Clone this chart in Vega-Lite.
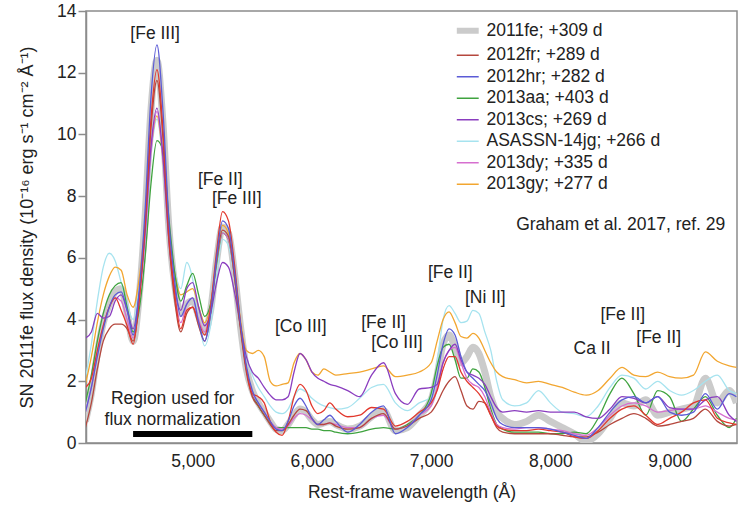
{
  "$schema": "https://vega.github.io/schema/vega-lite/v6.json",
  "description": "Nebular-phase spectra of nine Type Ia supernovae, flux density against rest-frame wavelength.",
  "width": 651,
  "height": 432,
  "autosize": {"type": "none"},
  "padding": {"left": 86, "top": 11, "right": 11, "bottom": 72},
  "datasets": {
    "fe": [
      {"w":4100,"f":0.7},{"w":4150,"f":1.6},{"w":4200,"f":2.9},{"w":4250,"f":3.9},{"w":4300,"f":4.5},{"w":4350,"f":4.9},{"w":4400,"f":5.0},{"w":4450,"f":4.2},{"w":4500,"f":3.3},{"w":4550,"f":4.7},
      {"w":4600,"f":7.3},{"w":4650,"f":10.8},{"w":4700,"f":12.4},{"w":4750,"f":10.4},{"w":4800,"f":7.0},{"w":4850,"f":5.1},{"w":4900,"f":4.2},{"w":4950,"f":4.5},{"w":5000,"f":4.6},{"w":5050,"f":4.1},
      {"w":5100,"f":3.6},{"w":5150,"f":4.3},{"w":5200,"f":5.9},{"w":5250,"f":7.0},{"w":5300,"f":6.8},{"w":5350,"f":5.5},{"w":5400,"f":3.8},{"w":5450,"f":2.4},{"w":5500,"f":1.7},{"w":5550,"f":1.3},
      {"w":5600,"f":1.0},{"w":5650,"f":0.7},{"w":5700,"f":0.45},{"w":5750,"f":0.4},{"w":5800,"f":0.6},{"w":5850,"f":0.9},{"w":5900,"f":1.1},{"w":5950,"f":1.0},{"w":6000,"f":0.75},{"w":6050,"f":0.6},
      {"w":6100,"f":0.65},{"w":6150,"f":0.7},{"w":6200,"f":0.6},{"w":6300,"f":0.45},{"w":6400,"f":0.55},{"w":6500,"f":0.85},{"w":6600,"f":1.05},{"w":6700,"f":0.4},{"w":6800,"f":0.5},{"w":6900,"f":0.9},
      {"w":7000,"f":1.4},{"w":7050,"f":2.2},{"w":7100,"f":3.2},{"w":7150,"f":3.5},{"w":7200,"f":3.1},{"w":7250,"f":2.6},{"w":7300,"f":2.8},{"w":7350,"f":3.1},{"w":7400,"f":2.9},{"w":7450,"f":2.3},
      {"w":7500,"f":1.5},{"w":7550,"f":1.0},{"w":7600,"f":0.8},{"w":7700,"f":0.6},{"w":7800,"f":0.7},{"w":7900,"f":0.9},{"w":8000,"f":0.7},{"w":8100,"f":0.5},{"w":8200,"f":0.3},{"w":8300,"f":0.05},
      {"w":8400,"f":0.3},{"w":8500,"f":0.8},{"w":8600,"f":1.3},{"w":8700,"f":1.2},{"w":8800,"f":1.4},{"w":8900,"f":0.9},{"w":9000,"f":1.0},{"w":9100,"f":1.1},{"w":9200,"f":1.2},{"w":9300,"f":2.1},
      {"w":9400,"f":1.3},{"w":9500,"f":1.7},{"w":9560,"f":1.3}
    ],
    "fr": [
      {"w":4100,"f":0.5},{"w":4150,"f":1.3},{"w":4200,"f":2.4},{"w":4250,"f":3.3},{"w":4300,"f":3.7},{"w":4350,"f":3.85},{"w":4400,"f":3.85},{"w":4450,"f":3.7},{"w":4500,"f":3.3},{"w":4550,"f":4.6},
      {"w":4600,"f":7.0},{"w":4650,"f":10.2},{"w":4700,"f":11.75},{"w":4750,"f":9.9},{"w":4800,"f":6.6},{"w":4850,"f":4.6},{"w":4900,"f":3.6},{"w":4950,"f":4.2},{"w":5000,"f":4.4},{"w":5050,"f":3.8},
      {"w":5100,"f":3.3},{"w":5150,"f":4.2},{"w":5200,"f":5.9},{"w":5250,"f":6.9},{"w":5300,"f":6.7},{"w":5350,"f":5.4},{"w":5400,"f":3.7},{"w":5450,"f":2.3},{"w":5500,"f":1.5},{"w":5550,"f":1.2},
      {"w":5600,"f":0.9},{"w":5650,"f":0.6},{"w":5700,"f":0.4},{"w":5750,"f":0.4},{"w":5800,"f":0.6},{"w":5850,"f":0.9},{"w":5900,"f":1.1},{"w":5950,"f":1.05},{"w":6000,"f":0.8},{"w":6050,"f":0.6},
      {"w":6100,"f":0.6},{"w":6150,"f":0.65},{"w":6200,"f":0.55},{"w":6300,"f":0.45},{"w":6400,"f":0.5},{"w":6500,"f":0.8},{"w":6600,"f":0.95},{"w":6700,"f":0.45},{"w":6800,"f":0.55},{"w":6900,"f":0.8},
      {"w":7000,"f":1.0},{"w":7050,"f":1.3},{"w":7100,"f":1.7},{"w":7150,"f":2.0},{"w":7200,"f":2.15},{"w":7250,"f":1.7},{"w":7300,"f":1.2},{"w":7350,"f":1.1},{"w":7400,"f":1.35},{"w":7450,"f":1.3},
      {"w":7500,"f":0.9},{"w":7550,"f":0.5},{"w":7600,"f":0.35},{"w":7700,"f":0.3},{"w":7800,"f":0.3},{"w":7900,"f":0.3},{"w":8000,"f":0.3},{"w":8100,"f":0.25},{"w":8200,"f":0.2},{"w":8300,"f":0.2},
      {"w":8400,"f":0.35},{"w":8500,"f":0.6},{"w":8600,"f":0.8},{"w":8700,"f":0.95},{"w":8800,"f":0.8},{"w":8900,"f":0.55},{"w":9000,"f":0.6},{"w":9100,"f":0.7},{"w":9200,"f":0.8},{"w":9300,"f":1.1},
      {"w":9400,"f":0.7},{"w":9500,"f":0.55},{"w":9560,"f":0.6}
    ],
    "hr": [
      {"w":4100,"f":1.0},{"w":4150,"f":1.8},{"w":4200,"f":2.8},{"w":4250,"f":3.7},{"w":4300,"f":4.4},{"w":4350,"f":4.8},{"w":4400,"f":4.9},{"w":4450,"f":4.3},{"w":4500,"f":3.5},{"w":4550,"f":4.9},
      {"w":4600,"f":7.5},{"w":4650,"f":11.2},{"w":4700,"f":12.9},{"w":4750,"f":10.8},{"w":4800,"f":7.2},{"w":4850,"f":5.2},{"w":4900,"f":4.1},{"w":4950,"f":4.5},{"w":5000,"f":4.7},{"w":5050,"f":3.9},
      {"w":5100,"f":3.3},{"w":5150,"f":4.2},{"w":5200,"f":6.0},{"w":5250,"f":7.2},{"w":5300,"f":6.95},{"w":5350,"f":5.6},{"w":5400,"f":3.9},{"w":5450,"f":2.5},{"w":5500,"f":1.7},{"w":5550,"f":1.3},
      {"w":5600,"f":1.0},{"w":5650,"f":0.7},{"w":5700,"f":0.45},{"w":5750,"f":0.4},{"w":5800,"f":0.7},{"w":5850,"f":1.2},{"w":5900,"f":1.45},{"w":5950,"f":1.2},{"w":6000,"f":0.8},{"w":6050,"f":0.6},
      {"w":6100,"f":0.75},{"w":6150,"f":0.9},{"w":6200,"f":0.7},{"w":6300,"f":0.35},{"w":6400,"f":0.6},{"w":6500,"f":1.0},{"w":6600,"f":1.2},{"w":6700,"f":0.3},{"w":6800,"f":0.5},{"w":6900,"f":0.9},
      {"w":7000,"f":1.4},{"w":7050,"f":2.2},{"w":7100,"f":3.2},{"w":7150,"f":3.7},{"w":7200,"f":3.5},{"w":7250,"f":2.8},{"w":7300,"f":2.3},{"w":7350,"f":2.1},{"w":7400,"f":1.9},{"w":7450,"f":1.7},
      {"w":7500,"f":1.3},{"w":7550,"f":0.8},{"w":7600,"f":0.6},{"w":7700,"f":0.5},{"w":7800,"f":0.5},{"w":7900,"f":0.5},{"w":8000,"f":0.45},{"w":8100,"f":0.35},{"w":8200,"f":0.25},{"w":8300,"f":0.15},
      {"w":8400,"f":0.5},{"w":8500,"f":1.0},{"w":8600,"f":1.4},{"w":8700,"f":1.5},{"w":8800,"f":1.3},{"w":8900,"f":1.5},{"w":9000,"f":1.0},{"w":9100,"f":0.9},{"w":9200,"f":1.0},{"w":9300,"f":1.6},
      {"w":9400,"f":1.1},{"w":9500,"f":1.6},{"w":9560,"f":1.5}
    ],
    "aa": [
      {"w":4100,"f":1.3},{"w":4150,"f":2.2},{"w":4200,"f":3.3},{"w":4250,"f":4.2},{"w":4300,"f":4.8},{"w":4350,"f":5.1},{"w":4400,"f":5.2},{"w":4450,"f":4.4},{"w":4500,"f":3.6},{"w":4550,"f":4.3},
      {"w":4600,"f":6.0},{"w":4650,"f":8.4},{"w":4700,"f":9.8},{"w":4750,"f":9.5},{"w":4800,"f":7.3},{"w":4850,"f":5.5},{"w":4900,"f":4.6},{"w":4950,"f":5.1},{"w":5000,"f":5.5},{"w":5050,"f":4.8},
      {"w":5100,"f":4.1},{"w":5150,"f":4.5},{"w":5200,"f":5.8},{"w":5250,"f":6.8},{"w":5300,"f":6.6},{"w":5350,"f":5.4},{"w":5400,"f":3.8},{"w":5450,"f":2.4},{"w":5500,"f":1.6},{"w":5550,"f":1.2},
      {"w":5600,"f":0.9},{"w":5650,"f":0.65},{"w":5700,"f":0.5},{"w":5750,"f":0.5},{"w":5800,"f":0.5},{"w":5850,"f":0.5},{"w":5900,"f":0.5},{"w":5950,"f":0.5},{"w":6000,"f":0.45},{"w":6050,"f":0.45},
      {"w":6100,"f":0.4},{"w":6150,"f":0.4},{"w":6200,"f":0.35},{"w":6300,"f":0.3},{"w":6400,"f":0.35},{"w":6500,"f":0.45},{"w":6600,"f":0.5},{"w":6700,"f":0.45},{"w":6800,"f":0.6},{"w":6900,"f":0.9},
      {"w":7000,"f":1.6},{"w":7050,"f":2.5},{"w":7100,"f":3.1},{"w":7150,"f":3.2},{"w":7200,"f":2.7},{"w":7250,"f":2.1},{"w":7300,"f":2.1},{"w":7350,"f":2.4},{"w":7400,"f":2.3},{"w":7450,"f":1.8},
      {"w":7500,"f":1.1},{"w":7550,"f":0.6},{"w":7600,"f":0.45},{"w":7700,"f":0.35},{"w":7800,"f":0.35},{"w":7900,"f":0.35},{"w":8000,"f":0.3},{"w":8100,"f":0.3},{"w":8200,"f":0.35},{"w":8300,"f":0.3},
      {"w":8400,"f":0.8},{"w":8500,"f":1.6},{"w":8600,"f":2.1},{"w":8700,"f":1.6},{"w":8800,"f":0.9},{"w":8900,"f":1.7},{"w":9000,"f":1.5},{"w":9100,"f":0.7},{"w":9200,"f":1.1},{"w":9300,"f":1.5},
      {"w":9400,"f":0.9},{"w":9500,"f":0.5},{"w":9560,"f":0.8}
    ],
    "xx": [
      {"w":4100,"f":1.8},{"w":4150,"f":2.1},{"w":4200,"f":3.0},{"w":4250,"f":3.8},{"w":4300,"f":4.4},{"w":4350,"f":4.7},{"w":4400,"f":4.3},{"w":4450,"f":3.8},{"w":4500,"f":3.2},{"w":4550,"f":4.6},
      {"w":4600,"f":7.1},{"w":4650,"f":10.5},{"w":4700,"f":12.1},{"w":4750,"f":10.2},{"w":4800,"f":6.8},{"w":4850,"f":4.8},{"w":4900,"f":3.7},{"w":4950,"f":4.3},{"w":5000,"f":4.4},{"w":5050,"f":3.9},
      {"w":5100,"f":3.5},{"w":5150,"f":4.4},{"w":5200,"f":6.2},{"w":5250,"f":7.5},{"w":5300,"f":7.2},{"w":5350,"f":5.8},{"w":5400,"f":3.9},{"w":5450,"f":2.4},{"w":5500,"f":1.6},{"w":5550,"f":1.5},
      {"w":5600,"f":1.3},{"w":5650,"f":0.7},{"w":5700,"f":0.35},{"w":5750,"f":0.25},{"w":5800,"f":0.7},{"w":5850,"f":1.5},{"w":5900,"f":1.9},{"w":5950,"f":1.7},{"w":6000,"f":1.2},{"w":6050,"f":0.95},
      {"w":6100,"f":1.05},{"w":6150,"f":1.3},{"w":6200,"f":1.1},{"w":6300,"f":0.85},{"w":6400,"f":0.9},{"w":6500,"f":1.15},{"w":6600,"f":1.1},{"w":6700,"f":0.55},{"w":6800,"f":0.7},{"w":6900,"f":1.0},
      {"w":7000,"f":1.3},{"w":7050,"f":1.7},{"w":7100,"f":2.4},{"w":7150,"f":2.8},{"w":7200,"f":2.8},{"w":7250,"f":2.3},{"w":7300,"f":2.0},{"w":7350,"f":1.8},{"w":7400,"f":1.6},{"w":7450,"f":1.3},
      {"w":7500,"f":0.9},{"w":7550,"f":0.55},{"w":7600,"f":0.45},{"w":7700,"f":0.4},{"w":7800,"f":0.4},{"w":7900,"f":0.45},{"w":8000,"f":0.4},{"w":8100,"f":0.35},{"w":8200,"f":0.2},{"w":8300,"f":0.15},
      {"w":8400,"f":0.4},{"w":8500,"f":0.8},{"w":8600,"f":1.1},{"w":8700,"f":1.2},{"w":8800,"f":0.9},{"w":8900,"f":0.6},{"w":9000,"f":0.8},{"w":9100,"f":1.0},{"w":9200,"f":1.3},{"w":9300,"f":1.4},
      {"w":9400,"f":0.8},{"w":9500,"f":0.65},{"w":9560,"f":0.6}
    ],
    "cs": [
      {"w":4100,"f":3.4},{"w":4150,"f":3.6},{"w":4200,"f":4.2},{"w":4250,"f":4.05},{"w":4300,"f":4.1},{"w":4350,"f":4.6},{"w":4400,"f":4.8},{"w":4450,"f":4.3},{"w":4500,"f":3.7},{"w":4550,"f":4.8},
      {"w":4600,"f":6.8},{"w":4650,"f":9.6},{"w":4700,"f":10.85},{"w":4750,"f":9.3},{"w":4800,"f":6.6},{"w":4850,"f":5.0},{"w":4900,"f":4.3},{"w":4950,"f":5.0},{"w":5000,"f":5.2},{"w":5050,"f":4.4},
      {"w":5100,"f":3.8},{"w":5150,"f":4.2},{"w":5200,"f":5.2},{"w":5250,"f":5.85},{"w":5300,"f":5.7},{"w":5350,"f":4.9},{"w":5400,"f":3.8},{"w":5450,"f":2.8},{"w":5500,"f":2.3},{"w":5550,"f":2.1},
      {"w":5600,"f":1.8},{"w":5650,"f":1.55},{"w":5700,"f":1.4},{"w":5750,"f":1.4},{"w":5800,"f":1.5},{"w":5850,"f":2.3},{"w":5900,"f":2.9},{"w":5950,"f":2.7},{"w":6000,"f":2.3},{"w":6050,"f":2.1},
      {"w":6100,"f":2.0},{"w":6150,"f":1.9},{"w":6200,"f":1.85},{"w":6300,"f":1.7},{"w":6400,"f":1.5},{"w":6500,"f":2.2},{"w":6600,"f":2.6},{"w":6700,"f":1.6},{"w":6800,"f":1.25},{"w":6900,"f":1.75},
      {"w":7000,"f":1.8},{"w":7050,"f":1.9},{"w":7100,"f":2.6},{"w":7150,"f":3.0},{"w":7200,"f":3.2},{"w":7250,"f":2.7},{"w":7300,"f":2.3},{"w":7350,"f":2.2},{"w":7400,"f":2.1},{"w":7450,"f":1.9},
      {"w":7500,"f":1.5},{"w":7550,"f":1.15},{"w":7600,"f":1.0},{"w":7700,"f":1.05},{"w":7800,"f":1.0},{"w":7900,"f":1.05},{"w":8000,"f":1.0},{"w":8100,"f":1.0},{"w":8200,"f":1.0},{"w":8300,"f":0.85},
      {"w":8400,"f":0.8},{"w":8500,"f":1.1},{"w":8600,"f":1.5},{"w":8700,"f":1.45},{"w":8800,"f":1.3},{"w":8900,"f":1.5},{"w":9000,"f":1.15},{"w":9100,"f":1.1},{"w":9200,"f":1.1},{"w":9300,"f":1.4},
      {"w":9400,"f":1.5},{"w":9500,"f":0.9},{"w":9560,"f":0.7}
    ],
    "jg": [
      {"w":4100,"f":2.1},{"w":4150,"f":3.2},{"w":4200,"f":4.6},{"w":4250,"f":5.7},{"w":4300,"f":6.15},{"w":4350,"f":5.9},{"w":4400,"f":5.2},{"w":4450,"f":4.5},{"w":4500,"f":4.0},{"w":4550,"f":5.0},
      {"w":4600,"f":6.8},{"w":4650,"f":9.3},{"w":4700,"f":10.5},{"w":4750,"f":9.1},{"w":4800,"f":6.8},{"w":4850,"f":5.6},{"w":4900,"f":5.0},{"w":4950,"f":5.85},{"w":5000,"f":5.3},{"w":5050,"f":4.0},
      {"w":5100,"f":3.15},{"w":5150,"f":3.8},{"w":5200,"f":5.4},{"w":5250,"f":6.6},{"w":5300,"f":6.4},{"w":5350,"f":5.3},{"w":5400,"f":3.8},{"w":5450,"f":2.8},{"w":5500,"f":2.2},{"w":5550,"f":1.8},
      {"w":5600,"f":1.5},{"w":5650,"f":1.2},{"w":5700,"f":1.0},{"w":5750,"f":0.95},{"w":5800,"f":1.1},{"w":5850,"f":1.5},{"w":5900,"f":1.75},{"w":5950,"f":1.65},{"w":6000,"f":1.45},{"w":6050,"f":1.3},
      {"w":6100,"f":1.2},{"w":6150,"f":1.15},{"w":6200,"f":1.1},{"w":6300,"f":1.15},{"w":6400,"f":1.45},{"w":6500,"f":1.8},{"w":6600,"f":1.9},{"w":6700,"f":1.3},{"w":6800,"f":1.05},{"w":6900,"f":1.3},
      {"w":7000,"f":1.5},{"w":7050,"f":2.6},{"w":7100,"f":4.0},{"w":7150,"f":4.45},{"w":7200,"f":4.2},{"w":7250,"f":3.9},{"w":7300,"f":3.95},{"w":7350,"f":4.3},{"w":7400,"f":4.2},{"w":7450,"f":3.6},
      {"w":7500,"f":3.0},{"w":7550,"f":2.0},{"w":7600,"f":1.4},{"w":7700,"f":1.2},{"w":7800,"f":1.3},{"w":7900,"f":1.7},{"w":8000,"f":1.3},{"w":8100,"f":1.0},{"w":8200,"f":0.95},{"w":8300,"f":0.85},
      {"w":8400,"f":1.2},{"w":8500,"f":1.8},{"w":8600,"f":2.2},{"w":8700,"f":2.1},{"w":8800,"f":1.75},{"w":8900,"f":2.0},{"w":9000,"f":1.7},{"w":9100,"f":1.55},{"w":9200,"f":1.7},{"w":9300,"f":2.0},
      {"w":9400,"f":2.2},{"w":9500,"f":1.7},{"w":9560,"f":1.6}
    ],
    "dy": [
      {"w":4100,"f":1.0},{"w":4150,"f":1.8},{"w":4200,"f":2.9},{"w":4250,"f":3.8},{"w":4300,"f":4.4},{"w":4350,"f":4.7},{"w":4400,"f":4.6},{"w":4450,"f":4.0},{"w":4500,"f":3.4},{"w":4550,"f":4.6},
      {"w":4600,"f":6.6},{"w":4650,"f":9.4},{"w":4700,"f":10.75},{"w":4750,"f":9.2},{"w":4800,"f":6.5},{"w":4850,"f":4.8},{"w":4900,"f":3.9},{"w":4950,"f":4.5},{"w":5000,"f":4.7},{"w":5050,"f":4.0},
      {"w":5100,"f":3.6},{"w":5150,"f":4.4},{"w":5200,"f":5.9},{"w":5250,"f":6.8},{"w":5300,"f":6.6},{"w":5350,"f":5.4},{"w":5400,"f":3.8},{"w":5450,"f":2.4},{"w":5500,"f":1.6},{"w":5550,"f":1.3},
      {"w":5600,"f":1.0},{"w":5650,"f":0.7},{"w":5700,"f":0.5},{"w":5750,"f":0.45},{"w":5800,"f":0.55},{"w":5850,"f":0.8},{"w":5900,"f":0.95},{"w":5950,"f":0.9},{"w":6000,"f":0.75},{"w":6050,"f":0.6},
      {"w":6100,"f":0.6},{"w":6150,"f":0.65},{"w":6200,"f":0.6},{"w":6300,"f":0.5},{"w":6400,"f":0.5},{"w":6500,"f":0.8},{"w":6600,"f":0.9},{"w":6700,"f":0.45},{"w":6800,"f":0.55},{"w":6900,"f":0.9},
      {"w":7000,"f":1.2},{"w":7050,"f":1.8},{"w":7100,"f":2.6},{"w":7150,"f":3.0},{"w":7200,"f":3.1},{"w":7250,"f":2.6},{"w":7300,"f":2.1},{"w":7350,"f":1.9},{"w":7400,"f":1.8},{"w":7450,"f":1.5},
      {"w":7500,"f":1.0},{"w":7550,"f":0.6},{"w":7600,"f":0.5},{"w":7700,"f":0.45},{"w":7800,"f":0.5},{"w":7900,"f":0.5},{"w":8000,"f":0.45},{"w":8100,"f":0.4},{"w":8200,"f":0.3},{"w":8300,"f":0.25},
      {"w":8400,"f":0.5},{"w":8500,"f":0.9},{"w":8600,"f":1.2},{"w":8700,"f":1.3},{"w":8800,"f":1.2},{"w":8900,"f":1.0},{"w":9000,"f":1.05},{"w":9100,"f":1.1},{"w":9200,"f":1.1},{"w":9300,"f":1.2},
      {"w":9400,"f":1.0},{"w":9500,"f":0.8},{"w":9560,"f":0.75}
    ],
    "gy": [
      {"w":4100,"f":1.9},{"w":4150,"f":2.8},{"w":4200,"f":3.9},{"w":4250,"f":4.8},{"w":4300,"f":5.4},{"w":4350,"f":5.7},{"w":4400,"f":5.6},{"w":4450,"f":4.8},{"w":4500,"f":4.4},{"w":4550,"f":5.3},
      {"w":4600,"f":7.1},{"w":4650,"f":9.5},{"w":4700,"f":10.6},{"w":4750,"f":9.2},{"w":4800,"f":6.9},{"w":4850,"f":5.5},{"w":4900,"f":4.8},{"w":4950,"f":4.9},{"w":5000,"f":5.0},{"w":5050,"f":4.4},
      {"w":5100,"f":3.9},{"w":5150,"f":4.5},{"w":5200,"f":6.0},{"w":5250,"f":7.05},{"w":5300,"f":6.8},{"w":5350,"f":5.6},{"w":5400,"f":4.0},{"w":5450,"f":3.0},{"w":5500,"f":2.9},{"w":5550,"f":3.0},
      {"w":5600,"f":2.8},{"w":5650,"f":2.0},{"w":5700,"f":1.85},{"w":5750,"f":1.9},{"w":5800,"f":1.95},{"w":5850,"f":2.6},{"w":5900,"f":2.9},{"w":5950,"f":2.7},{"w":6000,"f":2.3},{"w":6050,"f":2.2},
      {"w":6100,"f":2.4},{"w":6150,"f":2.3},{"w":6200,"f":2.2},{"w":6300,"f":2.25},{"w":6400,"f":2.3},{"w":6500,"f":2.4},{"w":6600,"f":2.5},{"w":6700,"f":2.15},{"w":6800,"f":2.2},{"w":6900,"f":2.3},
      {"w":7000,"f":2.6},{"w":7050,"f":3.3},{"w":7100,"f":4.0},{"w":7150,"f":4.25},{"w":7200,"f":3.9},{"w":7250,"f":3.45},{"w":7300,"f":3.4},{"w":7350,"f":3.55},{"w":7400,"f":3.4},{"w":7450,"f":3.0},
      {"w":7500,"f":2.6},{"w":7550,"f":2.3},{"w":7600,"f":2.15},{"w":7700,"f":2.05},{"w":7800,"f":1.95},{"w":7900,"f":2.0},{"w":8000,"f":1.9},{"w":8100,"f":1.8},{"w":8200,"f":1.65},{"w":8300,"f":1.55},
      {"w":8400,"f":1.7},{"w":8500,"f":2.1},{"w":8600,"f":2.45},{"w":8700,"f":2.2},{"w":8800,"f":2.15},{"w":8900,"f":2.3},{"w":9000,"f":2.15},{"w":9100,"f":2.1},{"w":9200,"f":2.2},{"w":9300,"f":2.95},
      {"w":9400,"f":2.65},{"w":9500,"f":2.5},{"w":9560,"f":2.45}
    ],
    "lines": [
      {"label":"[Fe III]","w":4685,"f":13.25},
      {"label":"[Fe II]","w":5231,"f":8.52},
      {"label":"[Fe III]","w":5369,"f":7.9},
      {"label":"[Co III]","w":5906,"f":3.77},
      {"label":"[Fe II]","w":6601,"f":3.88},
      {"label":"[Co III]","w":6713,"f":3.23},
      {"label":"[Fe II]","w":7160,"f":5.5},
      {"label":"[Ni II]","w":7454,"f":4.69},
      {"label":"Ca II","w":8349,"f":3.04},
      {"label":"[Fe II]","w":8607,"f":4.15},
      {"label":"[Fe II]","w":8908,"f":3.39},
      {"label":"Region used for","w":4832,"f":1.43},
      {"label":"flux normalization","w":4832,"f":0.75}
    ],
    "norm": [
      {"w":4500,"w2":5500,"f":0.29}
    ],
    "credit": [
      {"label":"Graham et al. 2017, ref. 29","w":9467,"f":7.06}
    ]
  },
  "encoding": {
    "x": {
      "field": "w",
      "type": "quantitative",
      "scale": {"domain": [4105, 9565], "nice": false, "zero": false},
      "axis": {
        "title": "Rest-frame wavelength (Å)",
        "values": [5000, 6000, 7000, 8000, 9000],
        "format": ",.0f",
        "grid": false,
        "ticks": false,
        "tickSize": 0,
        "labelPadding": 9,
        "labelFlush": false,
        "labelOverlap": false,
        "titlePadding": 14
      }
    },
    "y": {
      "field": "f",
      "type": "quantitative",
      "scale": {"domain": [0, 14], "nice": false},
      "axis": {
        "title": "SN 2011fe flux density (10⁻¹⁶ erg s⁻¹ cm⁻² Å⁻¹)",
        "values": [0, 2, 4, 6, 8, 10, 12, 14],
        "format": "d",
        "grid": false,
        "tickSize": 8,
        "labelPadding": 2,
        "labelFlush": false,
        "labelOverlap": false,
        "titlePadding": 20,
        "titleFontSize": 18
      }
    }
  },
  "layer": [
    {
      "data": {"name": "fe"},
      "mark": {"type": "line", "interpolate": "monotone", "clip": true, "strokeWidth": 7, "strokeJoin": "round"},
      "encoding": {
        "color": {
          "datum": "2011fe; +309 d",
          "type": "nominal",
          "scale": {
            "domain": ["2011fe; +309 d", "2012fr; +289 d", "2012hr; +282 d", "2013aa; +403 d", "unlabelled", "2013cs; +269 d", "ASASSN-14jg; +266 d", "2013dy; +335 d", "2013gy; +277 d"],
            "range": ["#cbcbcb", "#b5473d", "#5b5bd6", "#3fa33f", "#e2382d", "#8a3dbf", "#a6e3ef", "#d66fcf", "#f2a630"]
          },
          "legend": {
            "values": ["2011fe; +309 d", "2012fr; +289 d", "2012hr; +282 d", "2013aa; +403 d", "2013cs; +269 d", "ASASSN-14jg; +266 d", "2013dy; +335 d", "2013gy; +277 d"],
            "title": null,
            "orient": "none",
            "legendX": 373,
            "legendY": 11,
            "symbolType": "stroke",
            "symbolSize": 480,
            "symbolStrokeWidth": 1.5,
            "labelFontSize": 17.5,
            "labelColor": "#222",
            "labelLimit": 400,
            "labelOffset": 10,
            "rowPadding": 2.5,
            "encode": {
              "symbols": {
                "update": {
                  "strokeWidth": {"signal": "datum.value === '2011fe; +309 d' ? 6 : 1.5"}
                }
              }
            }
          }
        }
      }
    },
    {
      "data": {"name": "jg"},
      "mark": {"type": "line", "interpolate": "monotone", "clip": true, "strokeWidth": 1.3},
      "encoding": {"color": {"datum": "ASASSN-14jg; +266 d", "type": "nominal"}}
    },
    {
      "data": {"name": "gy"},
      "mark": {"type": "line", "interpolate": "monotone", "clip": true, "strokeWidth": 1.3},
      "encoding": {"color": {"datum": "2013gy; +277 d", "type": "nominal"}}
    },
    {
      "data": {"name": "aa"},
      "mark": {"type": "line", "interpolate": "monotone", "clip": true, "strokeWidth": 1.3},
      "encoding": {"color": {"datum": "2013aa; +403 d", "type": "nominal"}}
    },
    {
      "data": {"name": "dy"},
      "mark": {"type": "line", "interpolate": "monotone", "clip": true, "strokeWidth": 1.3},
      "encoding": {"color": {"datum": "2013dy; +335 d", "type": "nominal"}}
    },
    {
      "data": {"name": "cs"},
      "mark": {"type": "line", "interpolate": "monotone", "clip": true, "strokeWidth": 1.3},
      "encoding": {"color": {"datum": "2013cs; +269 d", "type": "nominal"}}
    },
    {
      "data": {"name": "fr"},
      "mark": {"type": "line", "interpolate": "monotone", "clip": true, "strokeWidth": 1.3},
      "encoding": {"color": {"datum": "2012fr; +289 d", "type": "nominal"}}
    },
    {
      "data": {"name": "xx"},
      "mark": {"type": "line", "interpolate": "monotone", "clip": true, "strokeWidth": 1.3},
      "encoding": {"color": {"datum": "unlabelled", "type": "nominal"}}
    },
    {
      "data": {"name": "hr"},
      "mark": {"type": "line", "interpolate": "monotone", "clip": true, "strokeWidth": 1.3},
      "encoding": {"color": {"datum": "2012hr; +282 d", "type": "nominal"}}
    },
    {
      "data": {"name": "norm"},
      "mark": {"type": "rule", "color": "#000", "strokeWidth": 6, "strokeCap": "butt"},
      "encoding": {"x2": {"field": "w2"}}
    },
    {
      "data": {"name": "lines"},
      "mark": {"type": "text", "fontSize": 17.5, "color": "#222", "align": "center", "baseline": "middle"},
      "encoding": {"text": {"field": "label", "type": "nominal"}}
    },
    {
      "data": {"name": "credit"},
      "mark": {"type": "text", "fontSize": 17.5, "color": "#222", "align": "right", "baseline": "middle"},
      "encoding": {"text": {"field": "label", "type": "nominal"}}
    }
  ],
  "config": {
    "font": "Liberation Sans",
    "background": "#ffffff",
    "view": {"stroke": "#8c8c8c", "strokeWidth": 1.5},
    "axis": {
      "domainColor": "#8c8c8c",
      "domainWidth": 1.5,
      "tickColor": "#8c8c8c",
      "tickWidth": 1.5,
      "labelFontSize": 17.5,
      "labelColor": "#222",
      "titleFontSize": 17.5,
      "titleFontWeight": "normal",
      "titleColor": "#222"
    }
  }
}
